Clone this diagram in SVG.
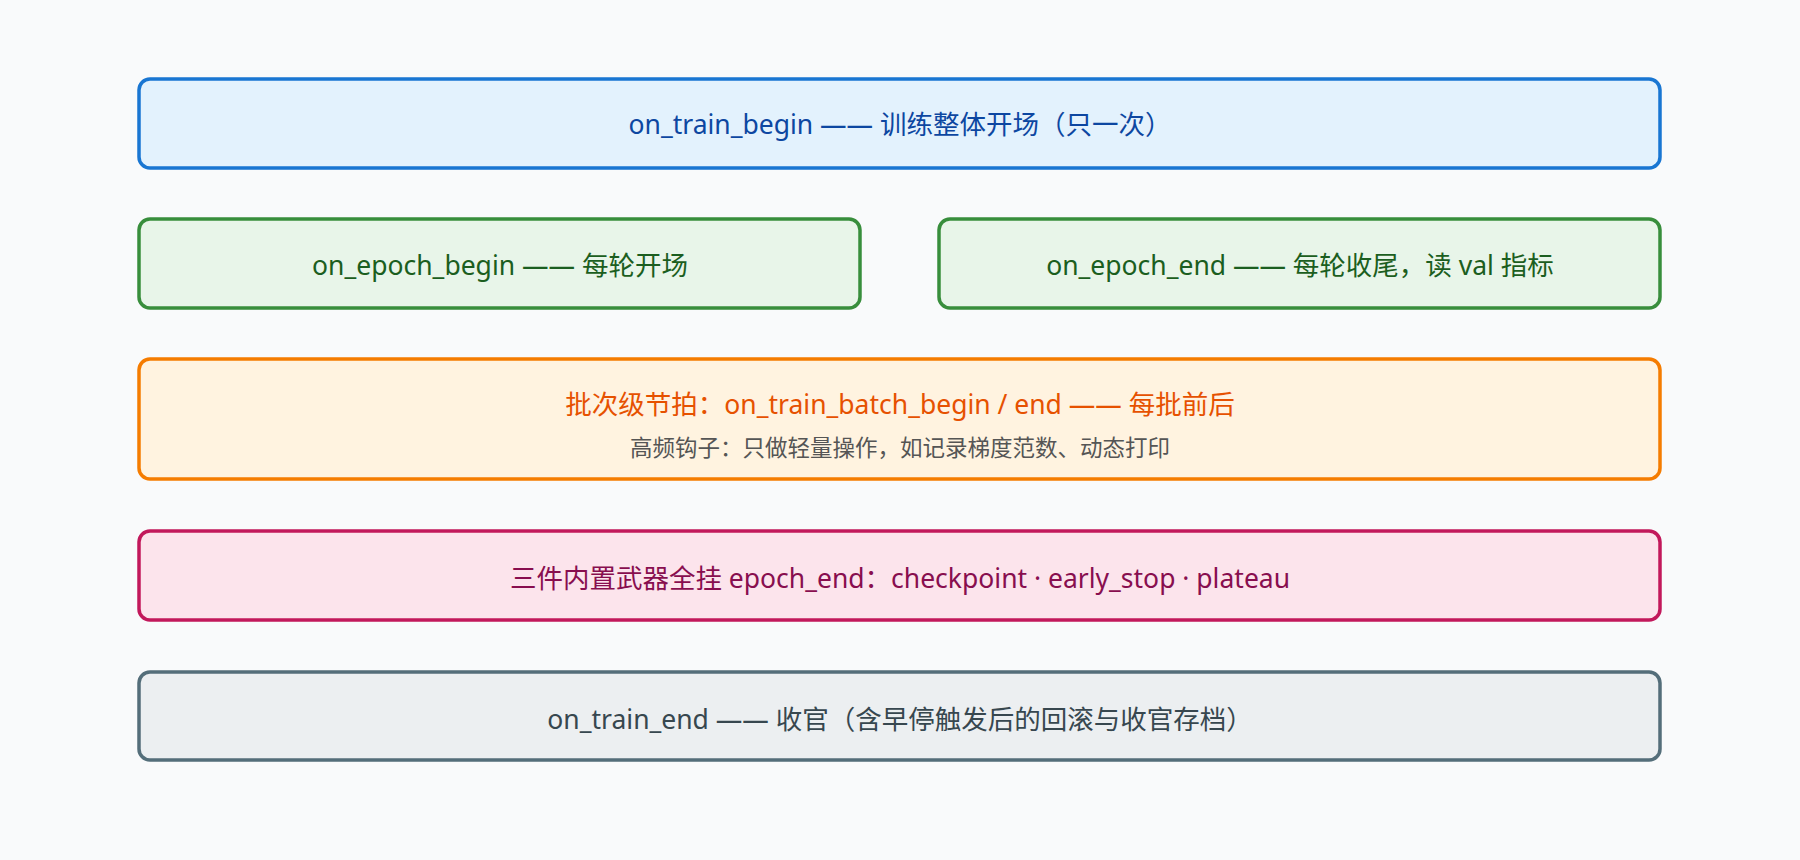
<svg xmlns="http://www.w3.org/2000/svg" width="1800" height="860" viewBox="0 0 1800 860">
<style>
rect.n{stroke-width:3.5}
text{font-family:"Noto Sans","Noto Sans CJK SC",sans-serif;font-size:26.5px;text-anchor:middle;dominant-baseline:central}
.sub{font-size:22.5px;fill:#555}
</style>
<rect width="1800" height="860" fill="#f9fafb"/>
<g id="train_begin"><rect class="n" x="139" y="79" width="1521" height="89" rx="11" fill="#e3f2fd" stroke="#1976d2"/><text x="900" y="124" fill="#0d47a1">on_train_begin —— 训练整体开场（只一次）</text></g>
<g id="epoch_begin"><rect class="n" x="139" y="219" width="721" height="89" rx="11" fill="#e8f5e9" stroke="#388e3c"/><text x="500" y="265" fill="#1b5e20">on_epoch_begin —— 每轮开场</text></g>
<g id="epoch_end"><rect class="n" x="939" y="219" width="721" height="89" rx="11" fill="#e8f5e9" stroke="#388e3c"/><text x="1300" y="265" fill="#1b5e20">on_epoch_end —— 每轮收尾，读 val 指标</text></g>
<g id="batch"><rect class="n" x="139" y="359" width="1521" height="120" rx="11" fill="#fff3e0" stroke="#f57c00"/><text x="900" y="404" fill="#e65100">批次级节拍：on_train_batch_begin / end —— 每批前后</text><text class="sub" x="900" y="447">高频钩子：只做轻量操作，如记录梯度范数、动态打印</text></g>
<g id="builtins"><rect class="n" x="139" y="531" width="1521" height="89" rx="11" fill="#fce4ec" stroke="#c2185b"/><text x="900" y="578" fill="#880e4f">三件内置武器全挂 epoch_end：checkpoint · early_stop · plateau</text></g>
<g id="train_end"><rect class="n" x="139" y="672" width="1521" height="88" rx="11" fill="#eceff1" stroke="#546e7a"/><text x="900" y="719" fill="#37474f">on_train_end —— 收官（含早停触发后的回滚与收官存档）</text></g>
<g id="connectors"></g>
</svg>
